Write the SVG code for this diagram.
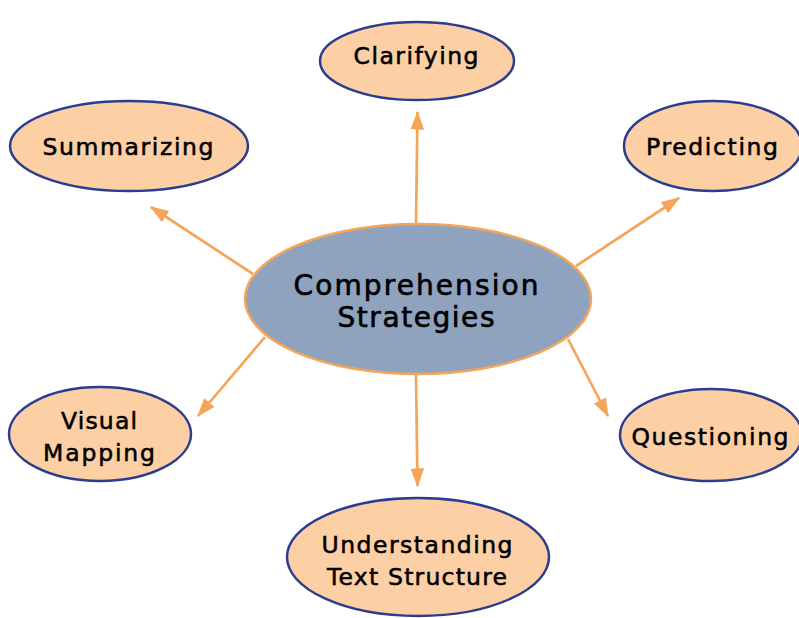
<svg xmlns="http://www.w3.org/2000/svg" width="799" height="618" viewBox="0 0 799 618">
<defs>
<style>
.leaf{fill:#fcd0a4;stroke:#2b3d8f;stroke-width:2.5}
.hub{fill:#8fa3bf;stroke:#f5a55a;stroke-width:2.5}
.t{font-family:"DejaVu Sans","Liberation Sans",sans-serif;fill:#000;stroke:#000;stroke-width:0.55;text-anchor:middle}
.s{font-size:23.5px}
.b{font-size:28px;stroke-width:0.65}
.c{stroke:#f5a55a;stroke-width:2.7;fill:none;marker-end:url(#ah)}
</style>
<marker id="ah" markerWidth="7" markerHeight="5" refX="6.5" refY="2.5" orient="auto" markerUnits="strokeWidth">
<path d="M0,0 L7,2.5 L0,5 Z" fill="#f5a55a"/>
</marker>
</defs>
<rect width="799" height="618" fill="#fff"/>
<g id="connectors">
<line class="c" x1="416" y1="224" x2="417.5" y2="112"/>
<line class="c" x1="253" y1="274" x2="151" y2="207"/>
<line class="c" x1="576" y1="266" x2="679" y2="198"/>
<line class="c" x1="265" y1="337" x2="198" y2="416"/>
<line class="c" x1="568" y1="339" x2="608" y2="416"/>
<line class="c" x1="416" y1="374" x2="417.5" y2="486"/>
</g>
<g id="hub">
<ellipse class="hub" cx="418" cy="299" rx="173" ry="75"/>
<text class="t b" x="416" y="295" textLength="245">Comprehension</text>
<text class="t b" x="416" y="327" textLength="157">Strategies</text>
</g>
<g id="clarifying">
<ellipse class="leaf" cx="417" cy="61" rx="97" ry="39"/>
<text class="t s" x="416" y="64" textLength="125">Clarifying</text>
</g>
<g id="summarizing">
<ellipse class="leaf" cx="129" cy="146" rx="119" ry="45"/>
<text class="t s" x="128" y="155" textLength="171">Summarizing</text>
</g>
<g id="predicting">
<ellipse class="leaf" cx="713" cy="146" rx="89" ry="45"/>
<text class="t s" x="712" y="155" textLength="132">Predicting</text>
</g>
<g id="visual-mapping">
<ellipse class="leaf" cx="100" cy="434" rx="91" ry="47"/>
<text class="t s" x="99" y="429" textLength="76">Visual</text>
<text class="t s" x="99" y="461" textLength="112">Mapping</text>
</g>
<g id="questioning">
<ellipse class="leaf" cx="711" cy="435" rx="91" ry="46"/>
<text class="t s" x="710" y="445" textLength="157">Questioning</text>
</g>
<g id="understanding">
<ellipse class="leaf" cx="418" cy="557" rx="131" ry="59"/>
<text class="t s" x="417" y="553" textLength="191">Understanding</text>
<text class="t s" x="417" y="585" textLength="180">Text Structure</text>
</g>
</svg>
